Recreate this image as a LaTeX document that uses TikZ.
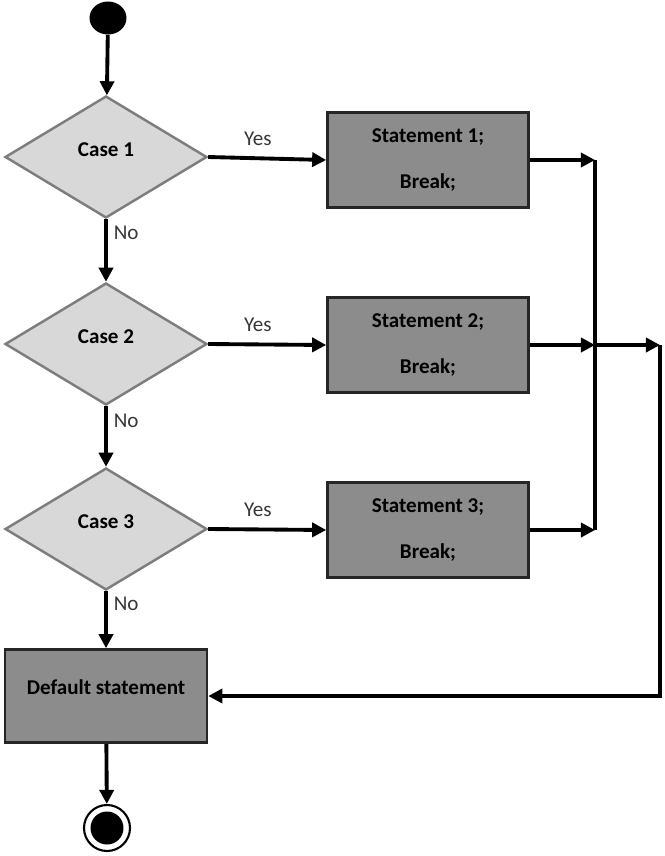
\documentclass[tikz,border=0pt]{standalone}
\usepackage{fontspec}
\setmainfont{Carlito}
\definecolor{grisdiam}{RGB}{216,216,216}
\definecolor{grisborde}{RGB}{125,125,125}
\definecolor{griscaja}{RGB}{140,140,140}
\definecolor{gristxt}{RGB}{55,55,55}
\usetikzlibrary{positioning, arrows.meta, shapes.geometric}

\begin{document}
\begin{tikzpicture}[x=0.02cm, y=-0.02cm,
    caso/.style={diamond, draw=grisborde, line width=1.4pt, fill=grisdiam, minimum width=4.04cm,
      minimum height=2.44cm, inner sep=0pt, font=\fontsize{12pt}{14pt}\selectfont\bfseries},
    caja/.style={rectangle, draw=black!85, line width=1.5pt, fill=griscaja, minimum width=4.02cm,
      minimum height=1.9cm, align=center, font=\fontsize{12pt}{14pt}\selectfont\bfseries},
    flecha/.style={-{Triangle[length=8pt, width=8pt]}, line width=2.2pt},
    etiq/.style={font=\fontsize{12pt}{14pt}\selectfont, text=gristxt}]
  \useasboundingbox (0,0) rectangle (665,856);
  % nodos
  \node[ellipse, fill=black, minimum width=0.74cm, minimum height=0.66cm, inner sep=0pt] (inicio) at (108,18) {};
  \node[caso] (c1) at (106,157) {\raisebox{8pt}{Case 1}};
  \node[caso] (c2) at (106,344) {\raisebox{8pt}{Case 2}};
  \node[caso] (c3) at (106,529) {\raisebox{8pt}{Case 3}};
  \node[caja] (s1) at (428,160) {Statement 1;\\[12pt]Break;};
  \node[caja] (s2) at (428,345) {Statement 2;\\[12pt]Break;};
  \node[caja] (s3) at (428,530) {Statement 3;\\[12pt]Break;};
  \node[caja, minimum width=4.04cm, minimum height=1.86cm] (dflt) at (106,696) {\raisebox{10pt}{Default statement}};
  \node[circle, draw=black, line width=1.2pt, fill=white, minimum size=0.92cm, inner sep=0pt] (fin) at (107,828) {};
  \node[circle, fill=black, minimum size=0.66cm, inner sep=0pt] (finc) at (fin) {};
  \coordinate (j1) at (595,160);
  \coordinate (j2) at (595,345);
  \coordinate (j3) at (595,530);
  \coordinate (r2) at (660,345);
  % flechas
  \draw[flecha] (inicio) -- (c1);
  \draw[flecha] (c1) -- (c2) node[etiq, pos=0.22, right] {No};
  \draw[flecha] (c2) -- (c3) node[etiq, pos=0.24, right] {No};
  \draw[flecha] (c3) -- (dflt) node[etiq, pos=0.22, right] {No};
  \draw[flecha] (dflt) -- (fin);
  \draw[flecha] (c1.east) -- (s1.west) node[etiq, pos=0.42, above=3pt] {Yes};
  \draw[flecha] (c2.east) -- (s2.west) node[etiq, pos=0.42, above=3pt] {Yes};
  \draw[flecha] (c3.east) -- (s3.west) node[etiq, pos=0.42, above=3pt] {Yes};
  \draw[flecha] (s1.east) -- (j1);
  \draw[flecha] (s2.east) -- (j2);
  \draw[flecha] (s3.east) -- (j3);
  \draw[line width=2.2pt] (j1) -- (j3);
  \draw[flecha] (j2) -- (r2);
  \draw[flecha] (r2) |- (dflt.east);
\end{tikzpicture}
\end{document}
